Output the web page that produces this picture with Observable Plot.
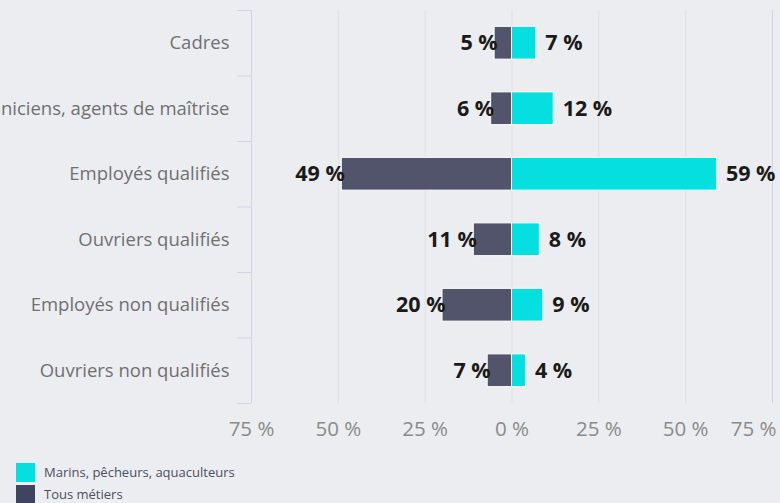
<!DOCTYPE html>
<html>
<head>
<meta charset="utf-8">
<script src="https://cdn.jsdelivr.net/npm/d3@7"></script>
<script src="https://cdn.jsdelivr.net/npm/@observablehq/plot@0.6"></script>
<style>
  html, body { margin: 0; padding: 0; background: #ecedf0; overflow: hidden; }
  body { width: 780px; height: 503px; font-family: "Open Sans", sans-serif; }
  #legend { margin-top: 11px; padding-left: 16px; font-size: 13px; color: #4a4e63; }
  .row { display: flex; align-items: center; height: 22px; }
  .sw { width: 19px; height: 19px; margin-right: 9px; }
</style>
</head>
<body>
<div id="chart"></div>
<div id="legend"></div>
<script>
const categories = ["Cadres", "Techniciens, agents de maîtrise", "Employés qualifiés", "Ouvriers qualifiés", "Employés non qualifiés", "Ouvriers non qualifiés"];
const marins = [7, 12, 59, 8, 9, 4];
const tous = [5, 6, 49, 11, 20, 7];
const seriesNames = ["Marins, pêcheurs, aquaculteurs", "Tous métiers"];
const seriesColors = ["#05dfe0", "#51546b"];
const xTicks = [-75, -50, -25, 0, 25, 50, 75];

const rows = categories.map((c, i) => ({cat: c, i, marins: marins[i], tous: tous[i]}));
const pct = d => Math.abs(d) + " %";

const chart = Plot.plot({
  width: 780,
  height: 450,
  marginLeft: 251,
  marginRight: 8,
  marginTop: 10,
  marginBottom: 47,
  style: {background: "transparent", fontFamily: "Open Sans, sans-serif", overflow: "visible"},
  x: {domain: [-75, 75], axis: null},
  y: {domain: [0, categories.length], reverse: true, axis: null},
  marks: [
    Plot.ruleX(xTicks.slice(1, -1), {y1: 0, y2: categories.length, stroke: "#dfe0e5", strokeWidth: 1}),
    Plot.ruleX([xTicks[0], xTicks[xTicks.length - 1]], {y1: 0, y2: categories.length, stroke: "#ccd6eb", strokeWidth: 1}),
    Plot.axisY(d3.range(categories.length + 1), {anchor: "left", tickSize: 14, tickFormat: () => "", stroke: "#ccd6eb"}),
    Plot.axisY(rows.map(r => r.i + 0.5), {anchor: "left", tickSize: 0, tickPadding: 22, fontSize: 18.5, fill: "#707070",
      tickFormat: v => categories[Math.floor(v)]}),
    Plot.rect(rows, {x1: 0, x2: d => -d.tous, y1: d => d.i + 0.25, y2: d => d.i + 0.75, fill: seriesColors[1], stroke: "white", strokeWidth: 1}),
    Plot.rect(rows, {x1: 0, x2: d => d.marins, y1: d => d.i + 0.25, y2: d => d.i + 0.75, fill: seriesColors[0], stroke: "white", strokeWidth: 1}),
    Plot.text(rows, {x: d => -d.tous, y: d => d.i + 0.5, text: d => pct(d.tous), textAnchor: "end", dx: 3, fontSize: 21.5, fontWeight: "bold", fill: "#1a1a1a"}),
    Plot.text(rows, {x: d => d.marins, y: d => d.i + 0.5, text: d => pct(d.marins), textAnchor: "start", dx: 9, fontSize: 21.5, fontWeight: "bold", fill: "#1a1a1a"}),
    Plot.axisX(xTicks.slice(0, -1), {anchor: "bottom", tickSize: 0, tickPadding: 18, fontSize: 20.5, fill: "#8a8a8a", tickFormat: pct}),
    Plot.axisX(xTicks.slice(-1), {anchor: "bottom", tickSize: 0, tickPadding: 18, fontSize: 20.5, fill: "#8a8a8a", tickFormat: pct, textAnchor: "end", dx: 4})
  ]
});
document.getElementById("chart").appendChild(chart);

const legend = document.getElementById("legend");
const legendColors = ["#05dfe0", "#3f4560"];
seriesNames.forEach((n, k) => {
  const row = document.createElement("div");
  row.className = "row";
  const sw = document.createElement("div");
  sw.className = "sw";
  sw.style.background = legendColors[k];
  const t = document.createElement("span");
  t.textContent = n;
  row.appendChild(sw);
  row.appendChild(t);
  legend.appendChild(row);
});
</script>
</body>
</html>
